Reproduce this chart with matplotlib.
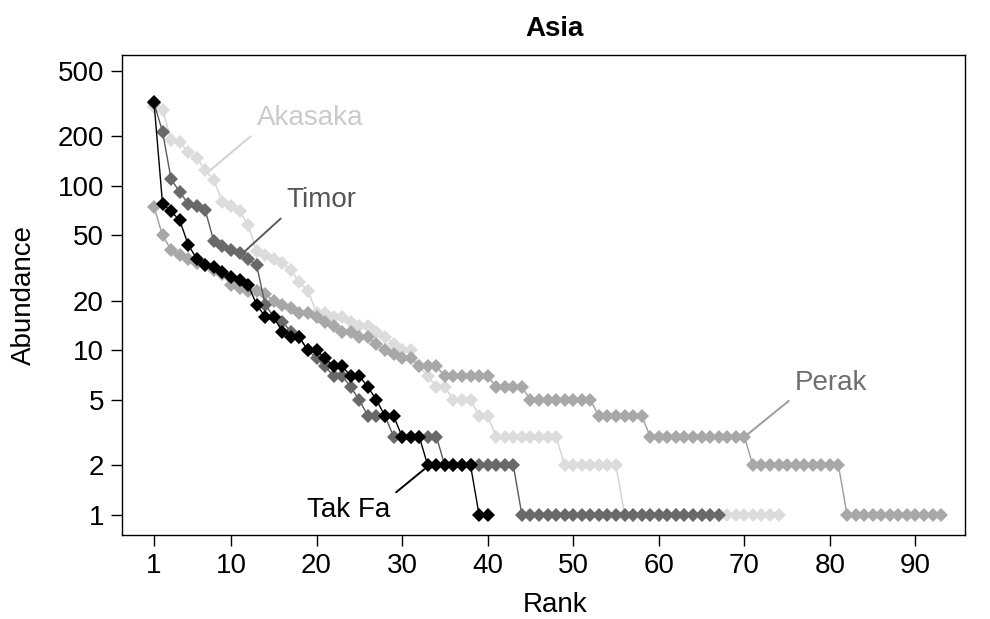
import matplotlib
matplotlib.use("Agg")
import matplotlib.pyplot as plt
from matplotlib.ticker import NullLocator

plt.rcParams['font.family'] = ['Liberation Sans', 'DejaVu Sans']

# rank-abundance values, one list per site
akasaka = [300, 290, 190, 186, 160, 147, 125, 108, 80, 76, 70, 58, 40, 38, 36, 34, 31, 26, 23, 17,
           17, 16, 16, 15, 14, 14, 13, 12, 11, 10, 10, 8, 7, 6, 6, 5, 5, 5, 4, 4,
           3, 3, 3, 3, 3, 3, 3, 3,
           2, 2, 2, 2, 2, 2, 2,
           1, 1, 1, 1, 1, 1, 1, 1, 1, 1, 1, 1, 1, 1, 1, 1, 1, 1, 1]
perak = [75, 50, 41, 38, 36, 34, 33, 31, 29, 25, 24, 23, 23, 22, 20, 19, 18, 17, 17, 16,
         15, 14, 13, 13, 12, 12, 11, 10, 9.5, 9, 9, 8, 8, 8,
         7, 7, 7, 7, 7, 7,
         6, 6, 6, 6,
         5, 5, 5, 5, 5, 5, 5, 5,
         4, 4, 4, 4, 4, 4,
         3, 3, 3, 3, 3, 3, 3, 3, 3, 3, 3, 3,
         2, 2, 2, 2, 2, 2, 2, 2, 2, 2, 2,
         1, 1, 1, 1, 1, 1, 1, 1, 1, 1, 1, 1]
timor = [320, 214, 110, 92, 78, 76, 71, 46, 43, 41, 39, 36, 33, 19, 16, 15, 13, 12, 10, 9,
         8, 7, 7, 6, 5, 4, 4, 4,
         3, 3, 3, 3, 3, 3,
         2, 2, 2, 2, 2, 2, 2, 2, 2,
         1, 1, 1, 1, 1, 1, 1, 1, 1, 1, 1, 1, 1, 1, 1, 1, 1, 1, 1, 1, 1, 1, 1, 1]
tak_fa = [325, 78, 70, 62, 44, 36, 33, 32, 30, 28, 27, 25, 19, 16, 16, 13, 12, 12, 10, 10,
          9, 8, 8, 7, 7, 6, 5, 4, 4, 3, 3, 3,
          2, 2, 2, 2, 2, 2,
          1, 1]

sites = ["Akasaka", "Perak", "Timor", "Tak Fa"]
series = [akasaka, perak, timor, tak_fa]
marker_colors = ["#dcdcdc", "#a8a8a8", "#696969", "#000000"]
line_colors = ["#d2d2d2", "#9c9c9c", "#5a5a5a", "#000000"]
text_colors = ["#cbcbcb", "#6e6e6e", "#555555", "#000000"]

x_ticks = [1, 10, 20, 30, 40, 50, 60, 70, 80, 90]
y_ticks = [1, 2, 5, 10, 20, 50, 100, 200, 500]

fig = plt.figure(figsize=(9.9, 6.19), dpi=100)
ax = fig.add_axes([0.1232, 0.1357, 0.8515, 0.7754])

for i in range(len(series)):
	vals = series[i]
	ranks = list(range(1, len(vals) + 1))
	ax.plot(ranks, vals, color=line_colors[i], lw=1.0, zorder=2 + i)
	ax.plot(ranks, vals, ls='none', marker='D', ms=7, mew=0,
	        color=marker_colors[i], zorder=2 + i)

ax.set_yscale('log')
ax.set_xlim(-2.74, 95.78)
ax.set_ylim(0.756, 625)
ax.set_xticks(x_ticks)
ax.set_xticklabels([str(t) for t in x_ticks])
ax.set_yticks(y_ticks)
ax.set_yticklabels([str(t) for t in y_ticks])
ax.yaxis.set_minor_locator(NullLocator())
ax.tick_params(direction='out', length=8, width=1, labelsize=20, pad=5)
for s in ax.spines.values():
	s.set_linewidth(1)

ax.set_xlabel("Rank", fontsize=20)
ax.xaxis.set_label_coords(0.5136, -0.118)
ax.set_ylabel("Abundance", fontsize=20)
ax.yaxis.set_label_coords(-0.101, 0.5)
ax.set_title("Asia", fontsize=20, fontweight='bold', x=0.5136, y=1.022)

# site labels with leader lines: (point on curve, text position, alignment, relpos)
label_pos = [((7.6, 125), (13.0, 258), 'left', (0, 0)),
             ((70.4, 3.1), (75.9, 6.35), 'left', (0, 0)),
             ((11.6, 40), (16.5, 82), 'left', (0, 0)),
             ((32.6, 1.9), (28.6, 1.07), 'right', (1, 1))]
for i in range(len(sites)):
	xy, xyt, ha, rp = label_pos[i]
	ax.annotate(sites[i], xy=xy, xytext=xyt, textcoords='data', ha=ha, va='center',
	            fontsize=20, color=text_colors[i], zorder=10,
	            arrowprops=dict(arrowstyle='-', color=line_colors[i], lw=1.4,
	                            relpos=rp, shrinkA=3, shrinkB=0))

fig.savefig("out.png", dpi=100)
